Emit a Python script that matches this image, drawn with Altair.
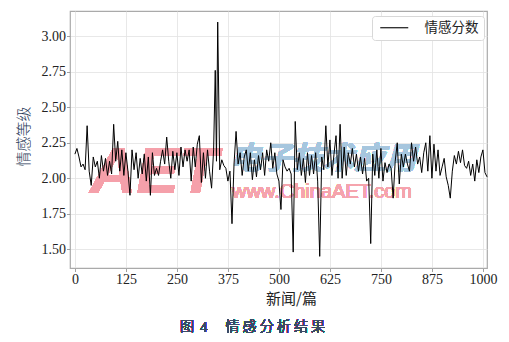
import altair as alt
import pandas as pd

news_idx = [
    0, 5, 10, 15, 20, 25, 30, 35, 40, 45, 50, 55, 60, 65, 70, 75, 80, 85, 90, 95,
    100, 105, 110, 115, 120, 125, 130, 135, 140, 145, 150, 155, 160, 165, 170, 175, 180, 185, 190, 195,
    200, 205, 210, 215, 220, 225, 230, 235, 240, 245, 250, 255, 260, 265, 270, 275, 280, 285, 290, 295,
    300, 305, 310, 315, 320, 325, 330, 335, 340, 344, 347, 350, 355, 360, 365, 370, 375, 380, 385, 390, 395,
    400, 405, 410, 415, 420, 425, 430, 435, 440, 445, 450, 455, 460, 465, 470, 475, 480, 485, 490, 495,
    500, 505, 510, 515, 520, 525, 530, 535, 540, 545, 550, 555, 560, 565, 570, 575, 580, 585, 590, 595,
    600, 605, 610, 615, 620, 625, 630, 635, 640, 645, 650, 655, 660, 665, 670, 675, 680, 685, 690, 695,
    700, 705, 710, 715, 720, 725, 730, 735, 740, 745, 750, 755, 760, 765, 770, 775, 780, 785, 790, 795,
    800, 805, 810, 815, 820, 825, 830, 835, 840, 845, 850, 855, 860, 865, 870, 875, 880, 885, 890, 895,
    900, 905, 910, 915, 920, 925, 930, 935, 940, 945, 950, 955, 960, 965, 970, 975, 980, 985, 990, 995,
    1000, 1005, 1010,
]
sentiment = [
    2.17, 2.21, 2.15, 2.08, 2.10, 2.06, 2.37, 2.05, 1.95, 2.15, 2.08, 2.12, 2.00, 2.16, 2.05, 2.14, 2.02, 2.12, 2.03, 2.38,
    2.12, 2.26, 2.05, 2.20, 2.02, 2.18, 2.05, 1.88, 2.20, 2.06, 2.18, 2.00, 2.14, 2.03, 2.17, 1.98, 2.15, 1.88, 2.18, 2.02,
    2.07, 2.02, 2.12, 2.20, 2.10, 2.29, 2.12, 2.00, 2.19, 2.06, 2.18, 2.02, 2.22, 2.08, 2.20, 2.12, 2.20, 1.98, 2.22, 2.08,
    2.24, 2.30, 1.97, 2.18, 2.00, 2.20, 2.05, 1.93, 2.20, 2.76, 2.12, 3.10, 2.06, 2.13, 2.09, 2.07, 1.98, 2.05, 1.68, 2.10, 2.33,
    2.10, 2.18, 2.02, 2.15, 2.20, 2.05, 2.18, 1.99, 2.13, 2.01, 2.16, 2.06, 2.18, 2.02, 2.20, 2.12, 2.25, 2.07, 2.18, 2.03,
    1.98, 1.78, 2.13, 2.08, 2.05, 2.07, 2.03, 1.48, 2.40, 2.06, 2.18, 2.02, 2.14, 1.97, 2.18, 2.02, 2.16, 2.03, 2.18, 1.98,
    1.45, 2.15, 2.06, 2.37, 2.08, 2.27, 2.02, 2.17, 2.30, 2.00, 2.38, 2.00, 2.22, 2.02, 2.18, 2.10, 2.21, 2.08, 2.17, 2.05,
    2.15, 2.03, 2.14, 1.98, 2.00, 1.54, 2.17, 2.02, 2.20, 2.00, 2.21, 1.98, 2.11, 2.04, 2.10, 2.07, 1.86, 2.12, 2.25, 1.96,
    2.17, 2.08, 2.17, 2.10, 2.05, 2.25, 2.12, 2.22, 2.10, 2.15, 2.04, 2.18, 2.25, 2.05, 2.30, 2.00, 2.24, 2.05, 2.20, 2.02,
    2.08, 2.14, 2.01, 1.95, 1.86, 2.05, 2.16, 2.10, 2.19, 2.11, 2.20, 2.09, 2.07, 2.12, 2.02, 2.10, 1.98, 2.13, 2.04, 2.15,
    2.20, 2.04, 2.01,
]
series_name = "情感分数"
x_ticks = [0, 125, 250, 375, 500, 625, 750, 875, 1000]
y_ticks = [1.50, 1.75, 2.00, 2.25, 2.50, 2.75, 3.00]

df = pd.DataFrame({"news": news_idx, "score": sentiment, "series": series_name})

SERIF = "Liberation Serif, DejaVu Serif, serif"
CJK = "Noto Sans CJK SC"
W, H = 417, 257

x_enc = alt.X(
    "news:Q",
    scale=alt.Scale(domain=[-12, 1010], nice=False, zero=False),
    axis=alt.Axis(
        values=x_ticks, format="d", title="新闻/篇", titleFont=CJK, titleFontSize=15,
        titleFontWeight="normal", titleColor="#222222", titleX=221, titleY=30,
        titleBaseline="middle", labelFont=SERIF, labelFontSize=14, labelColor="#222222",
        labelPadding=1, tickSize=3.5, tickColor="#888888", tickWidth=0.8,
        domain=False, gridColor="#e2e2e2", gridWidth=0.8, labelFlush=False,
    ),
)
y_enc = alt.Y(
    "score:Q",
    scale=alt.Scale(domain=[1.368, 3.178], nice=False, zero=False),
    axis=alt.Axis(
        values=y_ticks, format=".2f", title="情感等级", titleFont=CJK, titleFontSize=15,
        titleFontWeight=300, titleColor="#2a3a58", titleX=-47, titleY=125,
        titleAngle=270, titleBaseline="middle", titleAlign="center",
        labelFont=SERIF, labelFontSize=14, labelColor="#222222", labelPadding=1,
        tickSize=3.5, tickColor="#888888", tickWidth=0.8, domain=False,
        gridColor="#e2e2e2", gridWidth=0.8,
    ),
)

line = alt.Chart(df).mark_line(strokeWidth=1, interpolate="linear").encode(
    x=x_enc,
    y=y_enc,
    color=alt.Color(
        "series:N",
        scale=alt.Scale(range=["#000000"]),
        legend=alt.Legend(
            title=None, orient="none", legendX=302, legendY=5,
            symbolType="M-1,0H7", symbolSize=49, symbolStrokeWidth=1.1,
            labelFont=CJK, labelFontSize=13.5, labelColor="#222222", labelOffset=34,
            padding=5, fillColor="white", strokeColor="#d8d8d8", cornerRadius=3,
        ),
    ),
)

wm_aet = alt.Chart(df).mark_text(
    text="AET", font="Liberation Sans", fontSize=64, fontWeight="bold", fontStyle="italic",
    color="#f5a0aa", opacity=0.8, align="center", baseline="middle",
).encode(x=alt.value(84), y=alt.value(163))
wm_cn = alt.Chart(df).mark_text(
    text="电子技术应用", font=CJK, fontSize=31, fontWeight="bold", fontStyle="italic",
    color="#a6c6de", opacity=0.7, align="center", baseline="middle",
).encode(x=alt.value(253), y=alt.value(149))
wm_url = alt.Chart(df).mark_text(
    text="www.ChinaAET.com", font="Liberation Sans", fontSize=20,
    color="#f5a4ad", opacity=0.85, align="center", baseline="middle",
).encode(x=alt.value(252), y=alt.value(181))

cap1 = alt.Chart(df).mark_text(
    text="图", font=CJK, fontSize=14, fontWeight=300, color="#3a4a66", align="left", baseline="middle",
).encode(x=alt.value(110), y=alt.value(316))
cap_num = alt.Chart(df).mark_text(
    text="4", font=SERIF, fontSize=15, color="#3a4a66", align="left", baseline="middle",
).encode(x=alt.value(130), y=alt.value(316))
cap2 = alt.Chart(df).mark_text(
    text="情 感 分 析 结 果", font=CJK, fontSize=14, fontWeight=300, color="#3a4a66",
    align="left", baseline="middle",
).encode(x=alt.value(155.5), y=alt.value(316))

chart = alt.layer(wm_aet, wm_cn, wm_url, line, cap1, cap_num, cap2).properties(
    width=W, height=H,
    background="white",
    autosize=alt.AutoSizeParams(type="none"),
    padding={"left": 70, "top": 11, "right": 22, "bottom": 74},
).configure_view(stroke="#aaaaaa", strokeWidth=1.2)

chart.save("out.html", embed_options={"renderer": "svg", "actions": False})
